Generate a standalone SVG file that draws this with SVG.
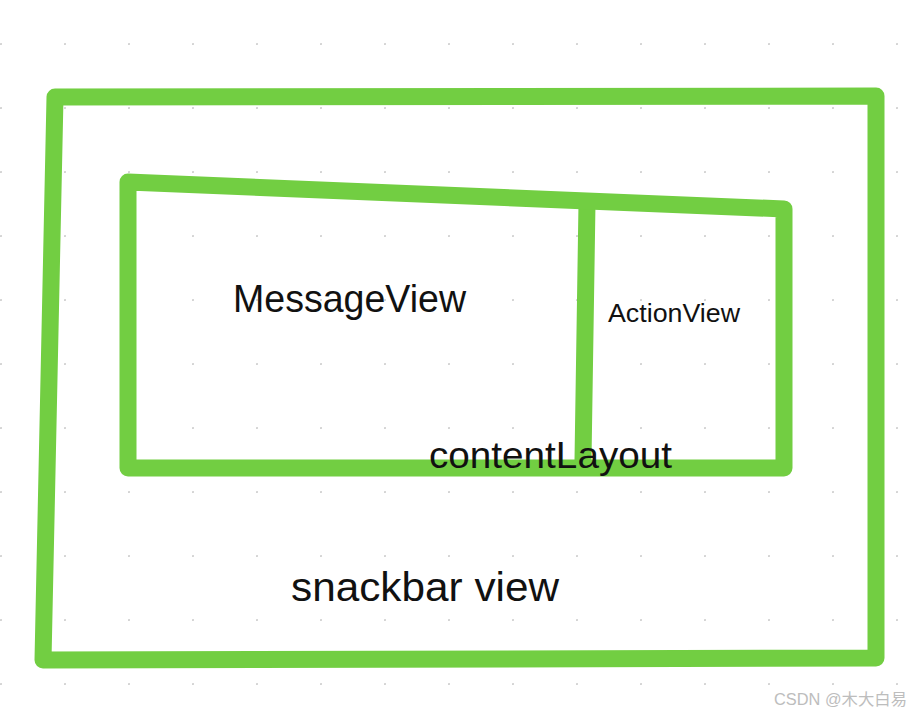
<svg xmlns="http://www.w3.org/2000/svg" width="913" height="714" viewBox="0 0 913 714">
<style>
.box{fill:none;stroke:#72CE42;stroke-width:17;stroke-linejoin:round;stroke-linecap:round}
.lbl{font-family:"Liberation Sans","Noto Sans",Arial,sans-serif;fill:#111}
.wm{font-family:"Liberation Sans","Noto Sans CJK SC",sans-serif;fill:#bdbdbd;font-size:16px}
</style>
<defs>
<pattern id="dots" x="0" y="12" width="64" height="64" patternUnits="userSpaceOnUse">
<circle cx="1" cy="32" r="1.1" fill="#cfcfcf"/>
</pattern>
</defs>
<rect width="913" height="714" fill="#fff"/>
<rect x="0" y="30" width="913" height="670" fill="url(#dots)"/>
<g id="connectors">
<path class="box" d="M587,203 L583,460"/>
</g>
<g id="snackbar-view">
<path class="box" d="M55,97 L876,96 L876,658 L43,660 Z"/>
<text class="lbl" x="291" y="601" font-size="40" textLength="268" lengthAdjust="spacingAndGlyphs">snackbar view</text>
</g>
<g id="contentLayout">
<path class="box" d="M128,182 L784,209 L784,468 L128,468 Z"/>
<text class="lbl" x="429" y="468" font-size="37" textLength="243" lengthAdjust="spacingAndGlyphs">contentLayout</text>
</g>
<g id="MessageView">
<text class="lbl" x="233" y="312" font-size="39" textLength="233" lengthAdjust="spacingAndGlyphs">MessageView</text>
</g>
<g id="ActionView">
<text class="lbl" x="608" y="322" font-size="26" textLength="132" lengthAdjust="spacingAndGlyphs">ActionView</text>
</g>
<text class="wm" x="774" y="705" textLength="133" lengthAdjust="spacingAndGlyphs">CSDN @木大白易</text>
</svg>
